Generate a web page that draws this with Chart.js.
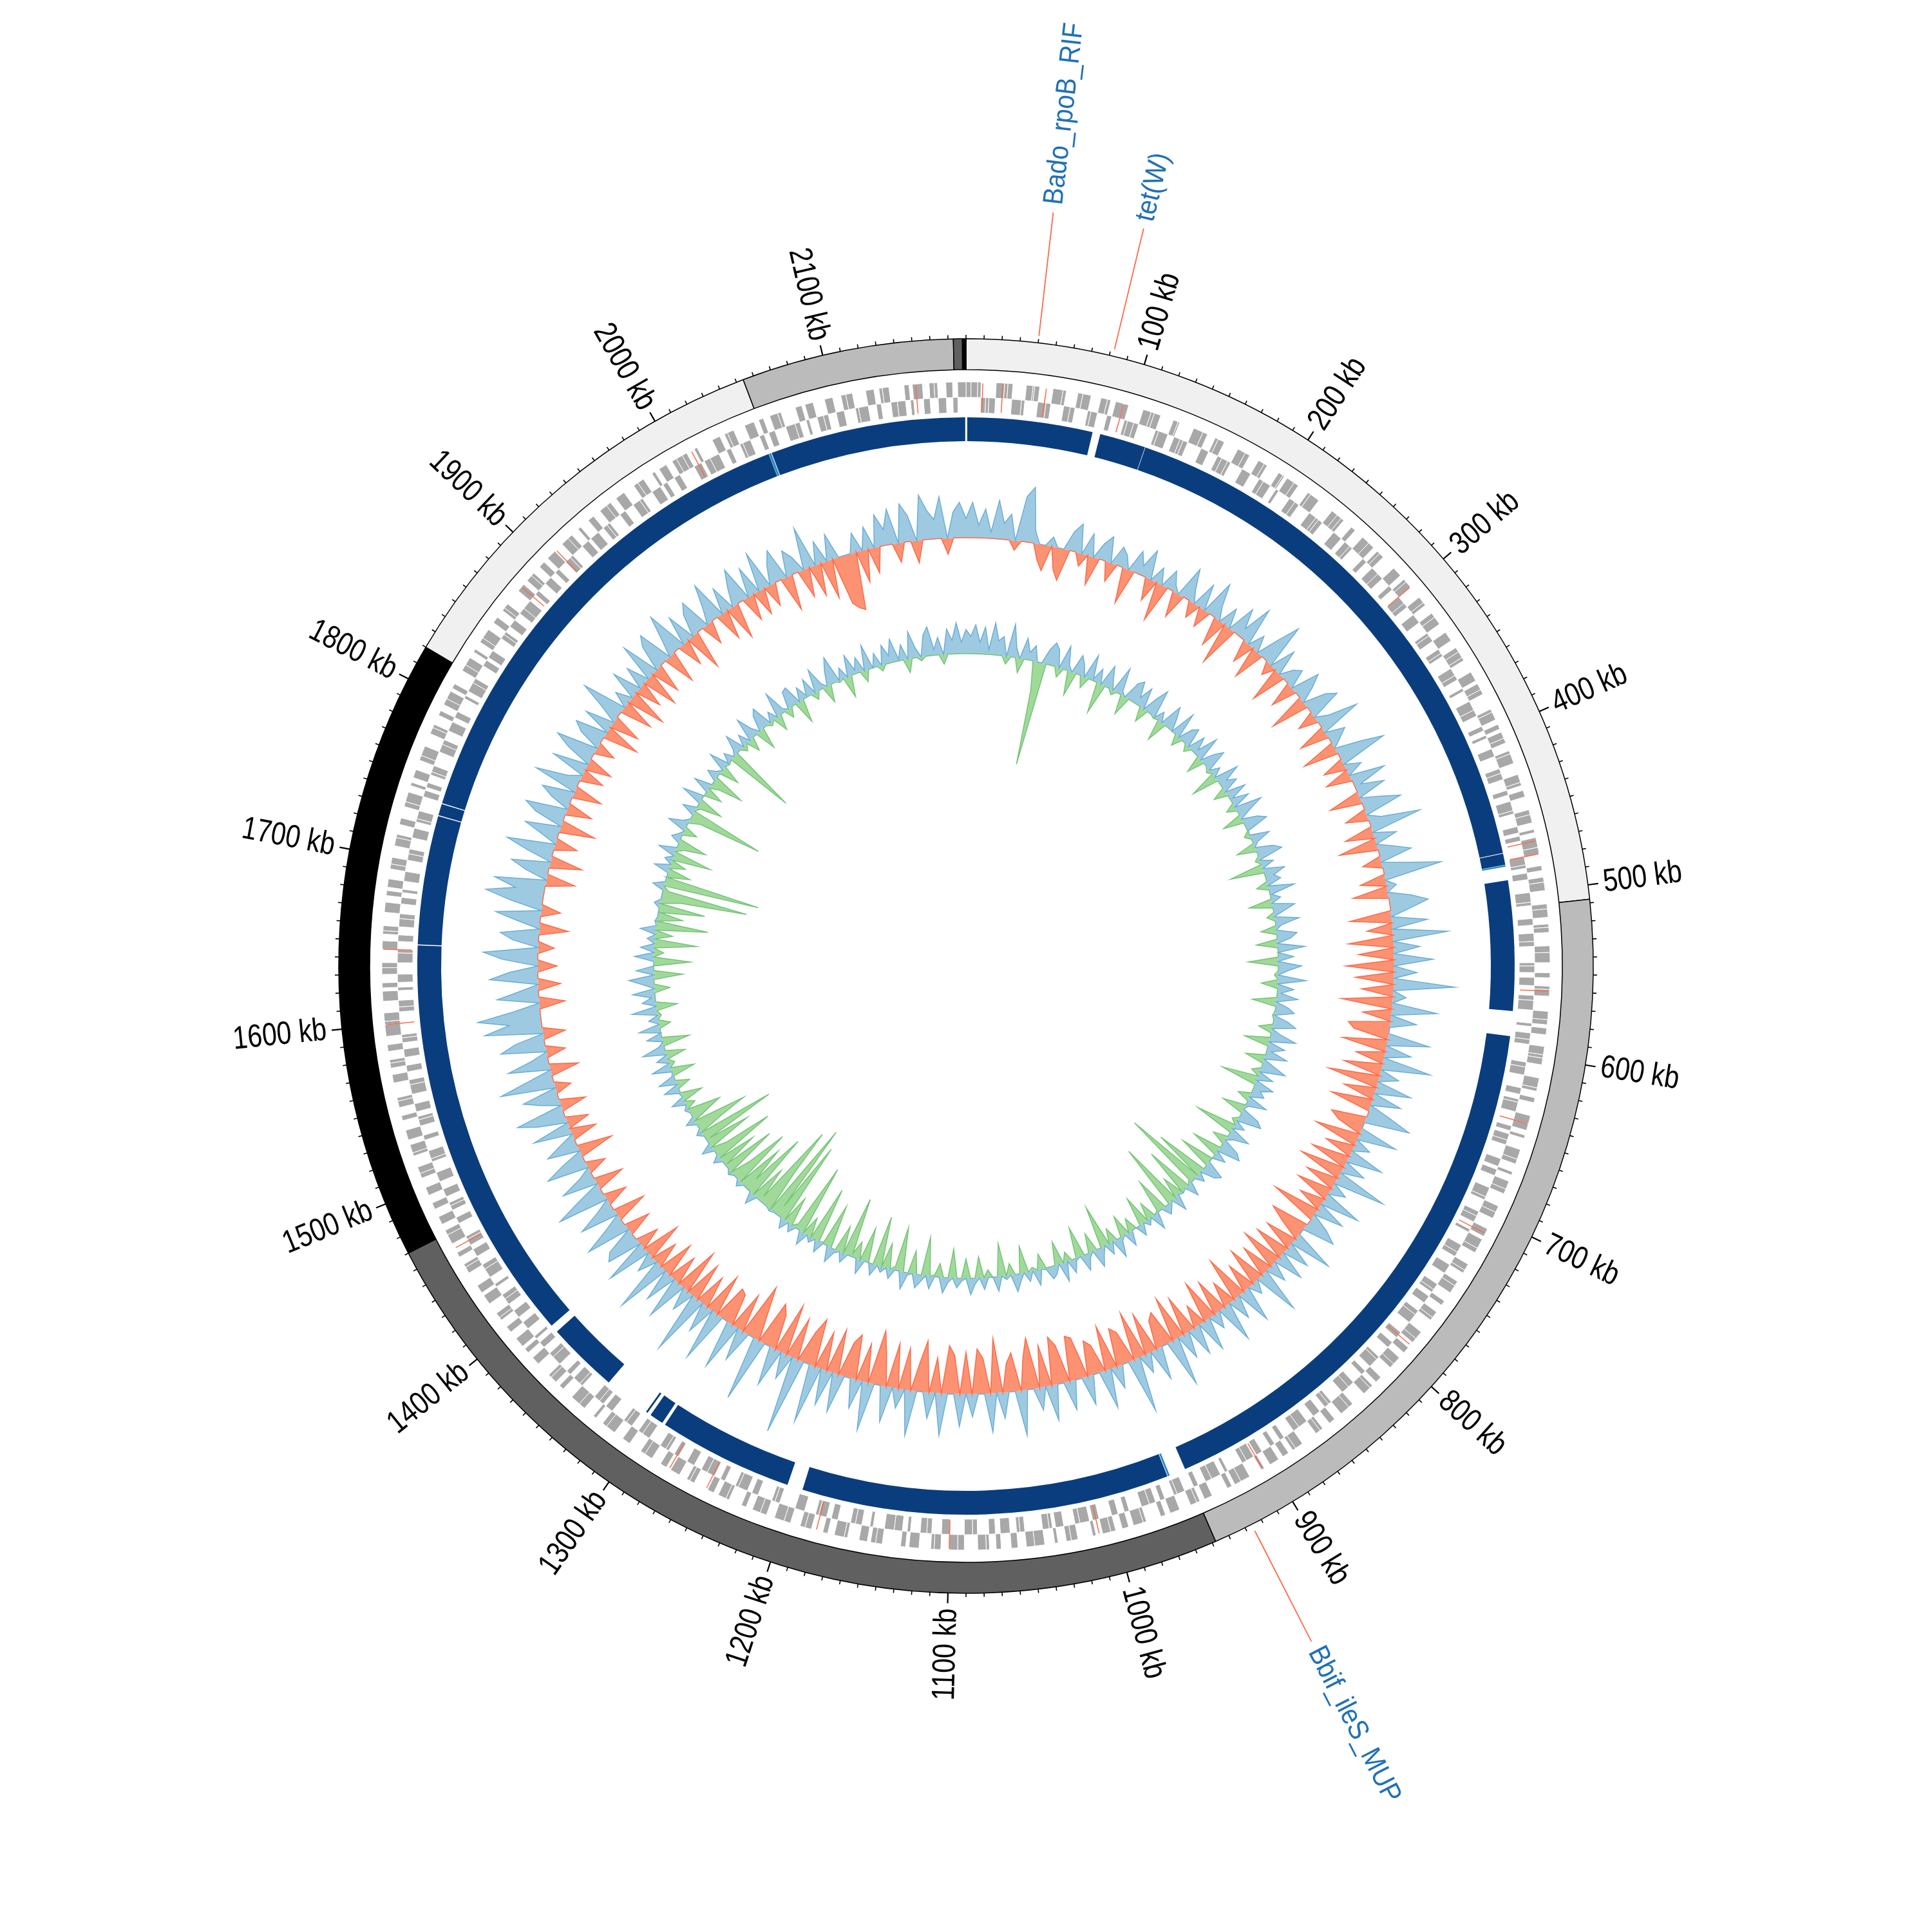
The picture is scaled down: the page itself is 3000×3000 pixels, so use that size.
<!DOCTYPE html>
<html>
<head>
<meta charset="utf-8">
<script src="https://cdn.jsdelivr.net/npm/chart.js"></script>
<style>
  html, body { margin: 0; padding: 0; background: #fff; }
  #wrap { position: relative; width: 3000px; height: 3000px; }
  #wrap canvas { position: absolute; left: 0; top: 0; }
</style>
</head>
<body>
<div id="wrap">
  <canvas id="rings" width="3000" height="3000"></canvas>
  <canvas id="tracks" width="3000" height="3000"></canvas>
</div>
<script>
// Genome size and window size (kb)
const genomeKb = 2180;
const binKb = 5;

// Outer ring bands (kb lengths, clockwise from the origin)
const bandKb = [508, 440, 522, 350, 234, 119, 5, 2];
const bandColor = ['#f0f0f0', '#bbbbbb', '#606060', '#000000', '#f0f0f0', '#bbbbbb', '#606060', '#000000'];

// Genes in kb: positive = forward strand (outer lane), negative = reverse strand (inner lane)
const geneRuns = [
  3, 4, 2, -3, -2, -4, 5, 2, 3, -6, -2, 4, 1, 3, -5, -3, 6, 2, -4, -3, 3, 5, -2, -4, 4, 2, -3, 5, 3, -2,
  -4, -3, 5, 2, 4, -2, -6, 3, 1, -4, -2, -3, 6, 3, -5, 2, 4, -3, -4, -2, 5, 3, -6, 4, 2, -3, -5, 3, 1,
  -2, 5, 3, -4, -3, 2, 6, -5, -2, -3, 4, 3, 2, -6, 3, -4, -2, 5, 4, -3, 2, 3, -5, -4, 6, -3, 2, 4,
  -5, -3, 4, 2, -6, 3, 5, -2, -4, 6, -3, -2, 3, 4, 2, -5, -3, 6, -2, 4, 3, -6, -4, 2, 5, -3, 3,
  -2, 4, 3, -5, 2, 6, -3, -4, 5, 2, -3, 4, -6, -2, 3, 5, -4, 2, -3, 6, 4, -5, -2, 3, -4, 3, 5,
  -6, -2, 3, 5, -4, 2, 3, -5, -3, 4, 6, -2, -4, 3, -5, 2, 4, -3, -6, 5, 3, -2, 4, -4, -3, 5, 2,
  4, -3, -5, 6, 2, -4, 3, -2, -6, 5, 4, -3, 2, -4, -3, 6, 3, -5, 2, -4, 5, 3, -6, -2, 4, 4,
  -3, -4, 5, -2, 6, 3, -5, -3, 4, 2, -6, 3, 5, -4, -2, 3, -5, 4, 2, -3, -6, 5, 3, -4, 4, -4,
  5, 3, -2, -6, 4, -3, 2, 5, -4, -5, 3, 6, -2, -3, 4, -5, 2, 3, -6, -4, 5, 2, -3, 4, -3, 6,
  -4, 2, -5, -3, 6, 4, -2, 3, -6, -4, 5, -3, 2, 4, -5, -2, 6, -3, 3, -4, -5, 2, 6, -3, 4, -4,
  3, 5, -4, 2, -6, -3, 4, 3, -5, 2, -2, -4, 6, 5, -3, -2, 4, -6, 3, -4, 2, 5, -3, -5, 4, 5,
  -5, 4, 2, -3, -4, 6, -2, 3, -5, -6, 4, 3, -2, 5, -4, -3, 2, 6, -4, 3, -5, -2, 4, 3, -6, 4,
  6, -3, -2, 4, 5, -4, 3, -6, -2, 2, 5, -3, 4, -5, -4, 3, 2, -5, 6, -3, 4, -2, -4, 5, 3, -5,
  -3, 5, -4, -2, 6, 3, -5, 2, -3, -4, 4, 6, -2, -5, 3, -3, 4, 2, -6, -3, 5, -4, 3, -2, 6, -5,
  4, -5, 2, 3, -4, -3, 6, -2, 5, -6, -3, 4, 2, -5, 3, -4, -2, 6, 3, -4, 5, -3, -2, 4, -5, 5,
  -6, 3, 4, -2, -5, 2, 5, -3, 6, -4, -2, 3, -5, 4, 2, -6, -3, 5, -4, 3, 2, -5, 4, -3, -2, 7,
  2, 5, -3, -4, 6, -2, 3, -5, 4, 3, -6, -2, 5, -4, 2, 3, -5, -3, 6, -4, 3, -2, 5, -6, 3, 4,
  -4, -3, 5, 2, -6, 4, -2, -5, 3, 6, -4, 2, -3, 5, -2, -4, 3, 6, -5, -3, 4, 2, -6, 3, -4, 4,
  5, -2, 3, -6, -3, 4, 5, -4, 2, -5, 3, 6, -3, -2, 4, -5, 2, 3, -4, -6, 5, -3, 4, 2, -5, 4,
  -3, 6, -4, -2, 5, 3, -5, 2, -6, 4, -3, -2, 5, 3, -4, 6, -5, -2, 3, 4, -6, 2, -3, 5, -4, 3,
  4, 3, -5, 2, -4, -6, 5, -3, 2, 4, -2, -5, 6, -3, 3, -4, 5, 2, -6, -3, 4, -2, 5, -4, -3, 5,
  -5, 3, 4, -2, -6, 5, -3, 2, 4, -4, -5, 3, -2, 6, -4, 3, 2, -5, 4, -3, 5
];

// RNA genes marked in red (kb)
const rnaKb = [10, 22, 48, 95, 300, 470, 478, 560, 640, 710, 790, 905, 1010, 1100, 1180, 1250, 1275, 1460, 1600, 1645, 1880, 1910, 2010, 2150];

// Aligned blocks (kb); shade 'd' = dark blue, 'l' = light blue
const alignStartKb = [0.8, 85.8, 115.6, 473.4, 480.8, 490.5, 589.5, 958.0, 959.6, 1205, 1293.5, 1304.8, 1336, 1387, 1648.6, 1731.6, 1739.6, 2052.5, 2054.4];
const alignEndKb   = [80.8, 115.3, 473.0, 480.6, 481.8, 573.5, 947.5, 959.2, 1195, 1291.5, 1302.5, 1306.0, 1382, 1648, 1731, 1739, 2052.3, 2054.0, 2179.5];
const alignShade   = ['d', 'd', 'd', 'd', 'l', 'd', 'd', 'l', 'd', 'd', 'd', 'd', 'd', 'd', 'd', 'd', 'd', 'l', 'd'];

// GC skew per 5 kb window (x1000)
const gcSkew = [
  30, 55, 20, 45, 10, 60, 25, 40, -15, 70, 86, 20, -25, -40, 15, -35, -50, 30, 45, -20,
  35, -45, 25, 40, -30, 30, 20, -55, 35, 15, 45, -35, 25, -60, 30, 10, -40, 50, 20, -25,
  40, -30, 55, 20, -45, 30, -65, 45, 15, 60, -35, 25, -50, 35, 70, -20, 40, -55, 20, 30,
  -40, 45, 25, -60, 35, 50, -30, 20, 65, -45, 30, 15, -55, 40, 75, -35, 25, -40, 55, 10,
  45, -50, 30, 60, -35, 20, 80, -45, 35, -60, 25, 50, -30, 40, 90, -40, 15, -55, 35, 60,
  30, -65, 55, -40, 85, -70, 40, -55, 60, -75, 35, -60, 95, -50, 20, -80, 70, -45, 40, -65,
  -55, 65, -70, 40, -45, 75, -60, 30, -80, 55, -50, 45, -65, 35, 70, -55, -40, 60, -70, 25,
  -45, 55, -60, 35, -70, 80, -50, 25, -55, 60, -40, 45, -75, 30, 50, -60, -35, 65, -50, 40,
  -55, 45, -65, 30, -50, 70, -60, 20, -45, 55, -70, 35, -40, 60, -55, 25, -65, 50, -35, 45,
  -60, 40, -70, 75, -55, -45, 50, -65, 30, -75, 85, -50, -60, 35, -70, 60, -45, -55, 45, -65,
  -70, 45, -60, -75, 55, -65, 35, -80, -50, 70, -60, -45, 40, -85, 60, -55, -70, 35, -65, 50,
  -60, -75, 65, -55, 40, -80, -45, 70, -65, 30, -70, 55, -50, -85, 75, -60, 45, -70, -55, 60,
  -70, 55, -60, 90, -75, -50, 120, -65, 40, -80, 60, -55, -70, 100, -45, -85, 50, -60, 75, -50,
  -55, 80, -65, 45, -50, 95, -60, 35, -70, 65, -45, 50, -55, 85, -40, 30, -60, 70, -35, 55,
  45, -40, 70, 30, -50, 60, 25, -35, 80, 40, -45, 55, 20, -30, 65, 35, -55, 50, 25, -40,
  60, -35, 45, 75, -40, 30, 55, -25, 85, 40, -45, 65, 25, -30, 70, 45, -35, 90, 50, 98,
  40, -40, 65, 30, -35, 75, 45, -30, 55, 85, -25, 40, 60, -45, 35, 70, -30, 50, 90, 45,
  80, -45, 35, 60, -50, 40, 75, -35, 25, 55, -55, 45, 65, -40, 30, 50, -45, 70, 20, -35,
  55, -40, 40, 65, -30, 35, 50, -55, 45, -45, 30, 70, -50, 25, -60, 45, -40, 35, -55, 60,
  -45, 40, 55, -50, 30, 65, -40, 45, -60, 35, 50, -35, 25, 60, -45, 40, -55, 30, 55, -40,
  45, -40, 60, -35, 30, 50, -55, 40, 25, -45, 65, -50, 35, -60, 40, -75, -85, -90, 30, -50,
  35, -40, 50, 25, 55, -30, 60, 40, -35, 70, 45, 30, 65, -25, 40, 55
];

// GC content (%) per 5 kb window
const gcContent = [
  62.5, 61.8, 63.0, 61.2, 62.8, 60.5, 63.3, 61.5, 62.0, 59.2, 63.4, 61.0, 58.5, 62.2, 60.8, 61.6, 57.0, 49.2, 61.5, 62.4,
  61.8, 59.0, 62.5, 60.6, 57.5, 62.0, 61.2, 58.8, 62.6, 60.2, 61.5, 56.8, 62.3, 61.0, 59.5, 62.8, 60.4, 58.0, 61.9, 62.4,
  60.8, 62.2, 58.5, 61.6, 62.9, 59.8, 61.0, 57.8, 62.4, 61.3, 60.0, 62.7, 58.9, 61.5, 62.0, 59.3, 61.8, 60.5, 62.6, 58.2,
  61.4, 62.3, 59.6, 61.0, 57.2, 62.5, 60.8, 61.7, 58.6, 62.1, 60.3, 61.9, 59.0, 62.8, 61.2, 57.9, 61.6, 62.4, 60.1, 59.4,
  62.0, 60.5, 58.0, 61.8, 62.6, 59.5, 61.3, 56.5, 62.2, 60.9, 61.5, 58.8, 62.7, 60.2, 61.0, 57.6, 62.3, 61.1, 59.2, 62.5,
  60.6, 58.4, 62.1, 61.4, 57.8, 62.8, 60.0, 61.6, 56.9, 62.4, 61.0, 59.6, 62.9, 58.3, 61.7, 60.4, 62.2, 57.5, 61.3, 62.0,
  59.8, 61.5, 62.4, 58.6, 61.0, 62.7, 57.4, 61.8, 60.5, 62.3, 58.0, 61.2, 62.6, 59.1, 61.6, 56.2, 62.0, 60.8, 61.4, 58.7,
  62.1, 60.3, 57.6, 61.9, 62.5, 59.4, 61.1, 55.8, 62.2, 60.7, 58.5, 61.8, 62.4, 57.0, 61.3, 60.0, 56.5, 62.0, 61.5, 54.5,
  60.9, 51.5, 59.6, 61.4, 55.0, 60.2, 57.8, 61.6, 53.2, 60.5, 61.0, 56.4, 59.8, 61.7, 58.2, 60.6, 57.0, 61.2, 60.0, 58.6,
  61.5, 57.8, 60.4, 62.0, 58.5, 61.2, 55.6, 60.8, 61.9, 58.0, 60.5, 61.7, 56.8, 60.2, 61.4, 59.0, 62.0, 57.6, 60.9, 61.3,
  60.2, 58.4, 61.6, 59.6, 61.0, 57.2, 60.8, 61.8, 58.8, 60.4, 56.6, 61.5, 60.0, 59.2, 61.2, 57.8, 60.6, 61.7, 58.0, 60.3,
  61.0, 57.0, 60.5, 61.6, 58.6, 59.8, 61.3, 56.0, 60.7, 61.4, 57.6, 60.2, 61.8, 55.4, 59.6, 61.0, 57.4, 60.6, 54.8, 61.2,
  60.0, 56.4, 61.5, 58.2, 59.6, 53.8, 61.0, 57.2, 60.4, 61.6, 55.5, 59.8, 61.2, 54.2, 60.6, 58.0, 61.4, 52.6, 59.5, 60.8,
  57.0, 61.0, 51.2, 58.8, 49.5, 60.2, 55.8, 50.6, 59.4, 56.2, 61.2, 52.8, 58.6, 55.0, 60.6, 53.6, 57.8, 60.4, 54.4, 59.8,
  56.0, 60.8, 53.4, 58.4, 61.2, 55.2, 59.6, 52.0, 60.6, 57.4, 54.4, 61.0, 58.2, 56.6, 60.4, 59.0, 61.4, 57.8, 60.2, 61.6,
  58.6, 61.8, 60.2, 57.6, 62.0, 59.4, 61.2, 58.0, 62.4, 60.6, 57.2, 61.6, 60.0, 62.2, 58.8, 61.0, 59.6, 62.6, 57.8, 61.4,
  60.4, 62.3, 58.4, 61.2, 62.6, 57.0, 61.8, 60.0, 56.2, 62.0, 59.0, 61.4, 55.6, 60.8, 58.2, 61.6, 54.6, 60.2, 57.4, 59.8,
  55.2, 60.6, 58.0, 51.0, 59.4, 61.2, 50.0, 60.0, 57.6, 61.6, 58.4, 60.8, 56.0, 61.8, 59.2, 57.0, 61.0, 60.4, 58.6, 62.0,
  60.6, 58.8, 52.2, 61.4, 59.6, 57.4, 62.2, 60.0, 58.2, 61.8, 59.0, 56.6, 61.2, 60.4, 58.0, 62.0, 59.8, 61.0, 52.8, 60.6,
  62.0, 59.4, 61.2, 58.6, 62.4, 60.8, 57.8, 61.6, 62.2, 59.6, 61.0, 58.4, 62.6, 60.4, 59.0, 61.8, 62.0, 57.6, 61.4, 60.2,
  61.8, 59.2, 62.4, 60.6, 58.2, 61.6, 62.8, 59.8, 61.2, 57.8, 62.2, 60.4, 61.6, 58.8, 62.6, 60.0, 61.4, 59.4, 62.0, 60.8,
  62.4, 60.2, 61.6, 58.6, 62.8, 61.0, 59.6, 62.2, 63.0, 60.6, 61.8, 59.0, 62.6, 61.4, 63.2, 61.2
];
const gcMean = 60;

// Labelled position ticks (kb)
const tickLabelKb = [100, 200, 300, 400, 500, 600, 700, 800, 900, 1000, 1100, 1200, 1300, 1400, 1500, 1600, 1700, 1800, 1900, 2000, 2100];

// Resistance gene annotations
const annotName = ['Bado_rpoB_RIF', 'tet(W)', 'Bbif_ileS_MUP'];
const annotKb = [40, 82, 926];

// ---- geometry (px) ----
const R_OUT = 974, R_ALIGN_IN = 815;
const SKEW_BASE = 665, SKEW_PX = 1.0;
const GC_BASE = 485, GC_PX = 15;
const CLEAR = 'rgba(0,0,0,0)';
const GENE_GRAY = '#a8a8a8';
const FONT = '"Liberation Sans", Arial, sans-serif';

// Build ring data
const geneData = geneRuns.map(Math.abs);
const alignData = [], alignColors = [];
let cursor = 0;
alignStartKb.forEach((s, i) => {
    alignData.push(s - cursor);
    alignColors.push(CLEAR);
    alignData.push(alignEndKb[i] - s);
    alignColors.push(alignShade[i] === 'l' ? '#2b8cbe' : '#0a3d7d');
    cursor = alignEndKb[i];
});
alignData.push(genomeKb - cursor);
alignColors.push(CLEAR);

new Chart(document.getElementById('rings'), {
    type: 'doughnut',
    data: {
        datasets: [
            { data: bandKb, backgroundColor: bandColor, borderColor: '#000', borderWidth: 1.5, weight: 48 },
            { data: [genomeKb], backgroundColor: CLEAR, borderWidth: 0, weight: 19 },
            { data: geneData, backgroundColor: geneRuns.map(v => v > 0 ? GENE_GRAY : CLEAR),
              borderColor: '#fff', borderWidth: geneRuns.map(v => v > 0 ? 1 : 0), weight: 24 },
            { data: geneData, backgroundColor: geneRuns.map(v => v < 0 ? GENE_GRAY : CLEAR),
              borderColor: '#fff', borderWidth: geneRuns.map(v => v < 0 ? 1 : 0), weight: 24 },
            { data: [genomeKb], backgroundColor: CLEAR, borderWidth: 0, weight: 7 },
            { data: alignData, backgroundColor: alignColors, borderWidth: 0, weight: 37 }
        ]
    },
    options: {
        responsive: false,
        animation: false,
        devicePixelRatio: 1,
        events: [],
        radius: R_OUT,
        cutout: (R_ALIGN_IN / R_OUT * 100) + '%',
        rotation: 0,
        circumference: 360,
        plugins: { legend: { display: false }, tooltip: { enabled: false } }
    }
});

// Radial line tracks: outline + fill on each side of a base circle
function track(values, base, px, upFill, upLine, downFill, downLine) {
    const up = values.map(v => base + Math.max(v, 0) * px);
    const down = values.map(v => base + Math.min(v, 0) * px);
    const hideFlat = arr => c => (arr[c.p0DataIndex] === base && arr[c.p1DataIndex] === base) ? CLEAR : undefined;
    return [
        { data: up, fill: false, borderColor: upLine, borderWidth: 1.5, segment: { borderColor: hideFlat(up) } },
        { data: down, fill: false, borderColor: downLine, borderWidth: 1.5, segment: { borderColor: hideFlat(down) } },
        { data: up, fill: { value: base }, backgroundColor: upFill, borderWidth: 0 },
        { data: down, fill: { value: base }, backgroundColor: downFill, borderWidth: 0 }
    ];
}

// text along the radius, flipped on the left half so it stays readable
function radialText(ctx, scale, kb, r, text, squeeze) {
    const p = scale.getPointPosition(kb / binKb, r);
    const deg = kb / genomeKb * 360;
    ctx.save();
    ctx.translate(p.x, p.y);
    if (deg <= 180) {
        ctx.rotate(p.angle);
        ctx.textAlign = 'left';
    } else {
        ctx.rotate(p.angle + Math.PI);
        ctx.textAlign = 'right';
    }
    ctx.scale(squeeze, 1);
    ctx.textBaseline = 'middle';
    ctx.fillText(text, 0, 0);
    ctx.restore();
}

function radialLine(ctx, scale, kb, r0, r1) {
    const a = scale.getPointPosition(kb / binKb, r0);
    const b = scale.getPointPosition(kb / binKb, r1);
    ctx.beginPath();
    ctx.moveTo(a.x, a.y);
    ctx.lineTo(b.x, b.y);
    ctx.stroke();
}

const decorations = {
    id: 'decorations',
    afterDraw(chart) {
        const scale = chart.scales.r;
        const ctx = chart.ctx;
        ctx.save();

        // RNA genes
        ctx.strokeStyle = '#fb6a4a';
        ctx.lineWidth = 1.5;
        rnaKb.forEach(kb => radialLine(ctx, scale, kb, 861, 905));

        // position ticks
        ctx.strokeStyle = '#000';
        for (let kb = 0; kb < genomeKb; kb += 10) {
            const major = kb > 0 && kb % 100 === 0;
            ctx.lineWidth = major ? 2.2 : 1.6;
            radialLine(ctx, scale, kb, R_OUT, R_OUT + (major ? 16 : 6));
        }
        ctx.fillStyle = '#000';
        ctx.font = '50px ' + FONT;
        tickLabelKb.forEach(kb => radialText(ctx, scale, kb, 998, kb + ' kb', 0.82));

        // annotations
        ctx.strokeStyle = '#fb6a4a';
        ctx.lineWidth = 1.8;
        ctx.fillStyle = '#2171b5';
        ctx.font = '44px ' + FONT;
        annotKb.forEach((kb, i) => {
            radialLine(ctx, scale, kb, 985, 1178);
            radialText(ctx, scale, kb, 1190, annotName[i], 0.9);
        });
        ctx.restore();
    }
};

new Chart(document.getElementById('tracks'), {
    type: 'radar',
    data: {
        labels: gcSkew.map((v, i) => i * binKb),
        datasets: [
            ...track(gcSkew, SKEW_BASE, SKEW_PX, '#9ecae1', '#6baed6', '#fc9272', '#fb6a4a'),
            ...track(gcContent.map(v => v - gcMean), GC_BASE, GC_PX, '#9ecae1', '#6baed6', '#a1d99b', '#74c476')
        ]
    },
    options: {
        responsive: false,
        animation: false,
        devicePixelRatio: 1,
        events: [],
        elements: { point: { radius: 0 }, line: { tension: 0 } },
        scales: {
            r: {
                min: 0,
                max: 1500,
                startAngle: 0,
                ticks: { display: false },
                grid: { display: false, circular: true },
                angleLines: { display: false },
                pointLabels: { display: false }
            }
        },
        plugins: { legend: { display: false }, tooltip: { enabled: false } }
    },
    plugins: [decorations]
});
</script>
</body>
</html>
